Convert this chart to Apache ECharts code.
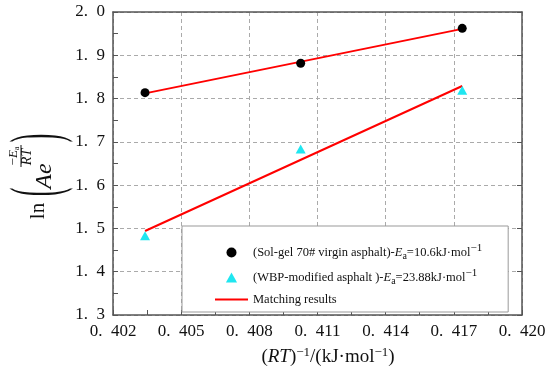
<!DOCTYPE html>
<html>
<head>
<meta charset="utf-8">
<script src="https://cdn.jsdelivr.net/npm/echarts@6/dist/echarts.min.js"></script>
<style>html,body{margin:0;padding:0;background:#fff}#c{width:550px;height:376px}</style>
</head>
<body>
<div id="c"></div>
<script>
// ---- data ----
const xValues = [0.40341, 0.41026, 0.41737];
const solY = [1.8136, 1.8815, 1.9623];
const wbpY = [1.483, 1.6836, 1.819];
const fitX = [0.40341, 0.41737];
const solFitY = [1.812, 1.961];
const wbpFitY = [1.494, 1.829];
const seriesNames = ['sol', 'wbp', 'Matching results'];
const legendTexts = [
  '(Sol-gel 70# virgin asphalt)-{i|E}{sub|a}=10.6kJ·mol{sup|−1}',
  '(WBP-modified asphalt )-{i|E}{sub|a}=23.88kJ·mol{sup|−1}',
  'Matching results'
];
const xMin = 0.402, xMax = 0.420, xStep = 0.003;
const yMin = 1.3, yMax = 2.0, yStep = 0.1;

const F = '"Liberation Serif","Times New Roman",serif';
const chart = echarts.init(document.getElementById('c'));
const pairs = (xs, ys) => xs.map((x, i) => [x, ys[i]]);
const fmtTick = (v, d) => v.toFixed(d).replace('.', '.\u2002');

const axisLine = {show: true, lineStyle: {color: '#555', width: 1.5}};
chart.setOption({
  backgroundColor: '#fff',
  animation: false,
  grid: {left: 113, right: 28, top: 12, bottom: 61, containLabel: false},
  xAxis: [{
    type: 'value', min: xMin, max: xMax, interval: xStep,
    axisLine: axisLine,
    axisTick: {show: true, inside: true, length: 5, lineStyle: {color: '#555'}},
    minorTick: {show: true, splitNumber: 2, length: 5, lineStyle: {color: '#555'}},
    axisLabel: {formatter: v => fmtTick(v, 3), fontFamily: F, fontSize: 17, color: '#111', margin: 8},
    splitLine: {show: true, lineStyle: {color: '#aaa', type: [4, 3], width: 1}}
  }, {
    type: 'value', position: 'top', min: xMin, max: xMax, interval: xStep,
    axisLine: axisLine, axisTick: {show: false}, axisLabel: {show: false}, splitLine: {show: false}
  }],
  yAxis: [{
    type: 'value', min: yMin, max: yMax, interval: yStep,
    axisLine: axisLine,
    axisTick: {show: true, inside: true, length: 5, lineStyle: {color: '#555'}},
    minorTick: {show: true, splitNumber: 2, length: 5, lineStyle: {color: '#555'}},
    axisLabel: {formatter: v => fmtTick(v, 1), fontFamily: F, fontSize: 17, color: '#111', margin: 8},
    splitLine: {show: true, lineStyle: {color: '#aaa', type: [4, 3], width: 1}}
  }, {
    type: 'value', position: 'right', min: yMin, max: yMax, interval: yStep,
    axisLine: axisLine,
    axisTick: {show: true, inside: true, length: 5, lineStyle: {color: '#555'}},
    axisLabel: {show: false}, splitLine: {show: false}
  }],
  legend: {
    orient: 'vertical', left: 182, top: 226,
    padding: [17, 26, 6, 33], itemGap: 7,
    itemWidth: 33, itemHeight: 10,
    backgroundColor: '#fff', borderColor: '#999', borderWidth: 1, borderRadius: 0,
    data: [
      {name: seriesNames[0]},
      {name: seriesNames[1], icon: 'path://M5 0L10 9H0Z'},
      {name: seriesNames[2], icon: 'path://M0 0H33V2H0Z'}
    ],
    formatter: name => legendTexts[seriesNames.indexOf(name)],
    textStyle: {
      fontFamily: F, fontSize: 12.5, color: '#111',
      rich: {
        i: {fontFamily: F, fontSize: 12.5, fontStyle: 'italic', color: '#111'},
        sub: {fontFamily: F, fontSize: 10, color: '#111', padding: [7, 0, 0, 0]},
        sup: {fontFamily: F, fontSize: 11, color: '#111', padding: [0, 0, 8, 0]}
      }
    }
  },
  series: [
    {name: 'Matching results', type: 'line', data: pairs(fitX, solFitY), symbol: 'none',
     lineStyle: {color: '#f00', width: 2}, itemStyle: {color: '#f00'}, z: 2},
    {name: 'Matching results', type: 'line', data: pairs(fitX, wbpFitY), symbol: 'none',
     lineStyle: {color: '#f00', width: 2}, itemStyle: {color: '#f00'}, z: 2},
    {name: 'sol', type: 'scatter', data: pairs(xValues, solY), symbol: 'circle', symbolSize: 9,
     symbolKeepAspect: true, itemStyle: {color: '#000', opacity: 1}, z: 3},
    {name: 'wbp', type: 'scatter', data: pairs(xValues, wbpY), symbol: 'triangle', symbolSize: [10, 9],
     symbolKeepAspect: true, itemStyle: {color: '#1fe6f0', opacity: 1}, z: 3}
  ],
  graphic: [
    {type: 'text', x: 328, y: 357, silent: true,
     style: {text: '({i|RT}){sup|−1}/(kJ·mol{sup|−1})', fontFamily: F, fontSize: 19, fill: '#111',
       align: 'center', verticalAlign: 'middle',
       rich: {
         i: {fontFamily: F, fontSize: 19, fontStyle: 'italic', fill: '#111'},
         sup: {fontFamily: F, fontSize: 13, fill: '#111', padding: [0, 0, 9, 0]}
       }}},
    // rotated y-axis title: ln( A e^{-Ea/RT} )
    {type: 'text', x: 38, y: 211, rotation: Math.PI / 2, silent: true,
     style: {text: 'ln', fontFamily: F, fontSize: 21, fill: '#111', align: 'center', verticalAlign: 'middle'}},
    {type: 'text', x: 40, y: 192, rotation: Math.PI / 2, scaleY: 2.7, silent: true,
     style: {text: '(', fontFamily: F, fontSize: 26, fill: '#111', align: 'center', verticalAlign: 'middle'}},
    {type: 'text', x: 45, y: 176, rotation: Math.PI / 2, silent: true,
     style: {text: 'Ae', fontFamily: F, fontSize: 24, fontStyle: 'italic', fill: '#111', align: 'center', verticalAlign: 'middle'}},
    {type: 'text', x: 14, y: 156, rotation: Math.PI / 2, silent: true,
     style: {text: '−{i|E}{sub|a}', fontFamily: F, fontSize: 13, fill: '#111', align: 'center', verticalAlign: 'middle',
       rich: {i: {fontFamily: F, fontSize: 13, fontStyle: 'italic', fill: '#111'},
              sub: {fontFamily: F, fontSize: 8, fill: '#111', padding: [5, 0, 0, 0]}}}},
    {type: 'line', silent: true, shape: {x1: 21, y1: 145, x2: 21, y2: 167}, style: {stroke: '#111', lineWidth: 1}},
    {type: 'text', x: 27, y: 157, rotation: Math.PI / 2, silent: true,
     style: {text: 'RT', fontFamily: F, fontSize: 14, fontStyle: 'italic', fill: '#111', align: 'center', verticalAlign: 'middle'}},
    {type: 'text', x: 40, y: 138, rotation: Math.PI / 2, scaleY: 2.7, silent: true,
     style: {text: ')', fontFamily: F, fontSize: 26, fill: '#111', align: 'center', verticalAlign: 'middle'}}
  ]
});
</script>
</body>
</html>
